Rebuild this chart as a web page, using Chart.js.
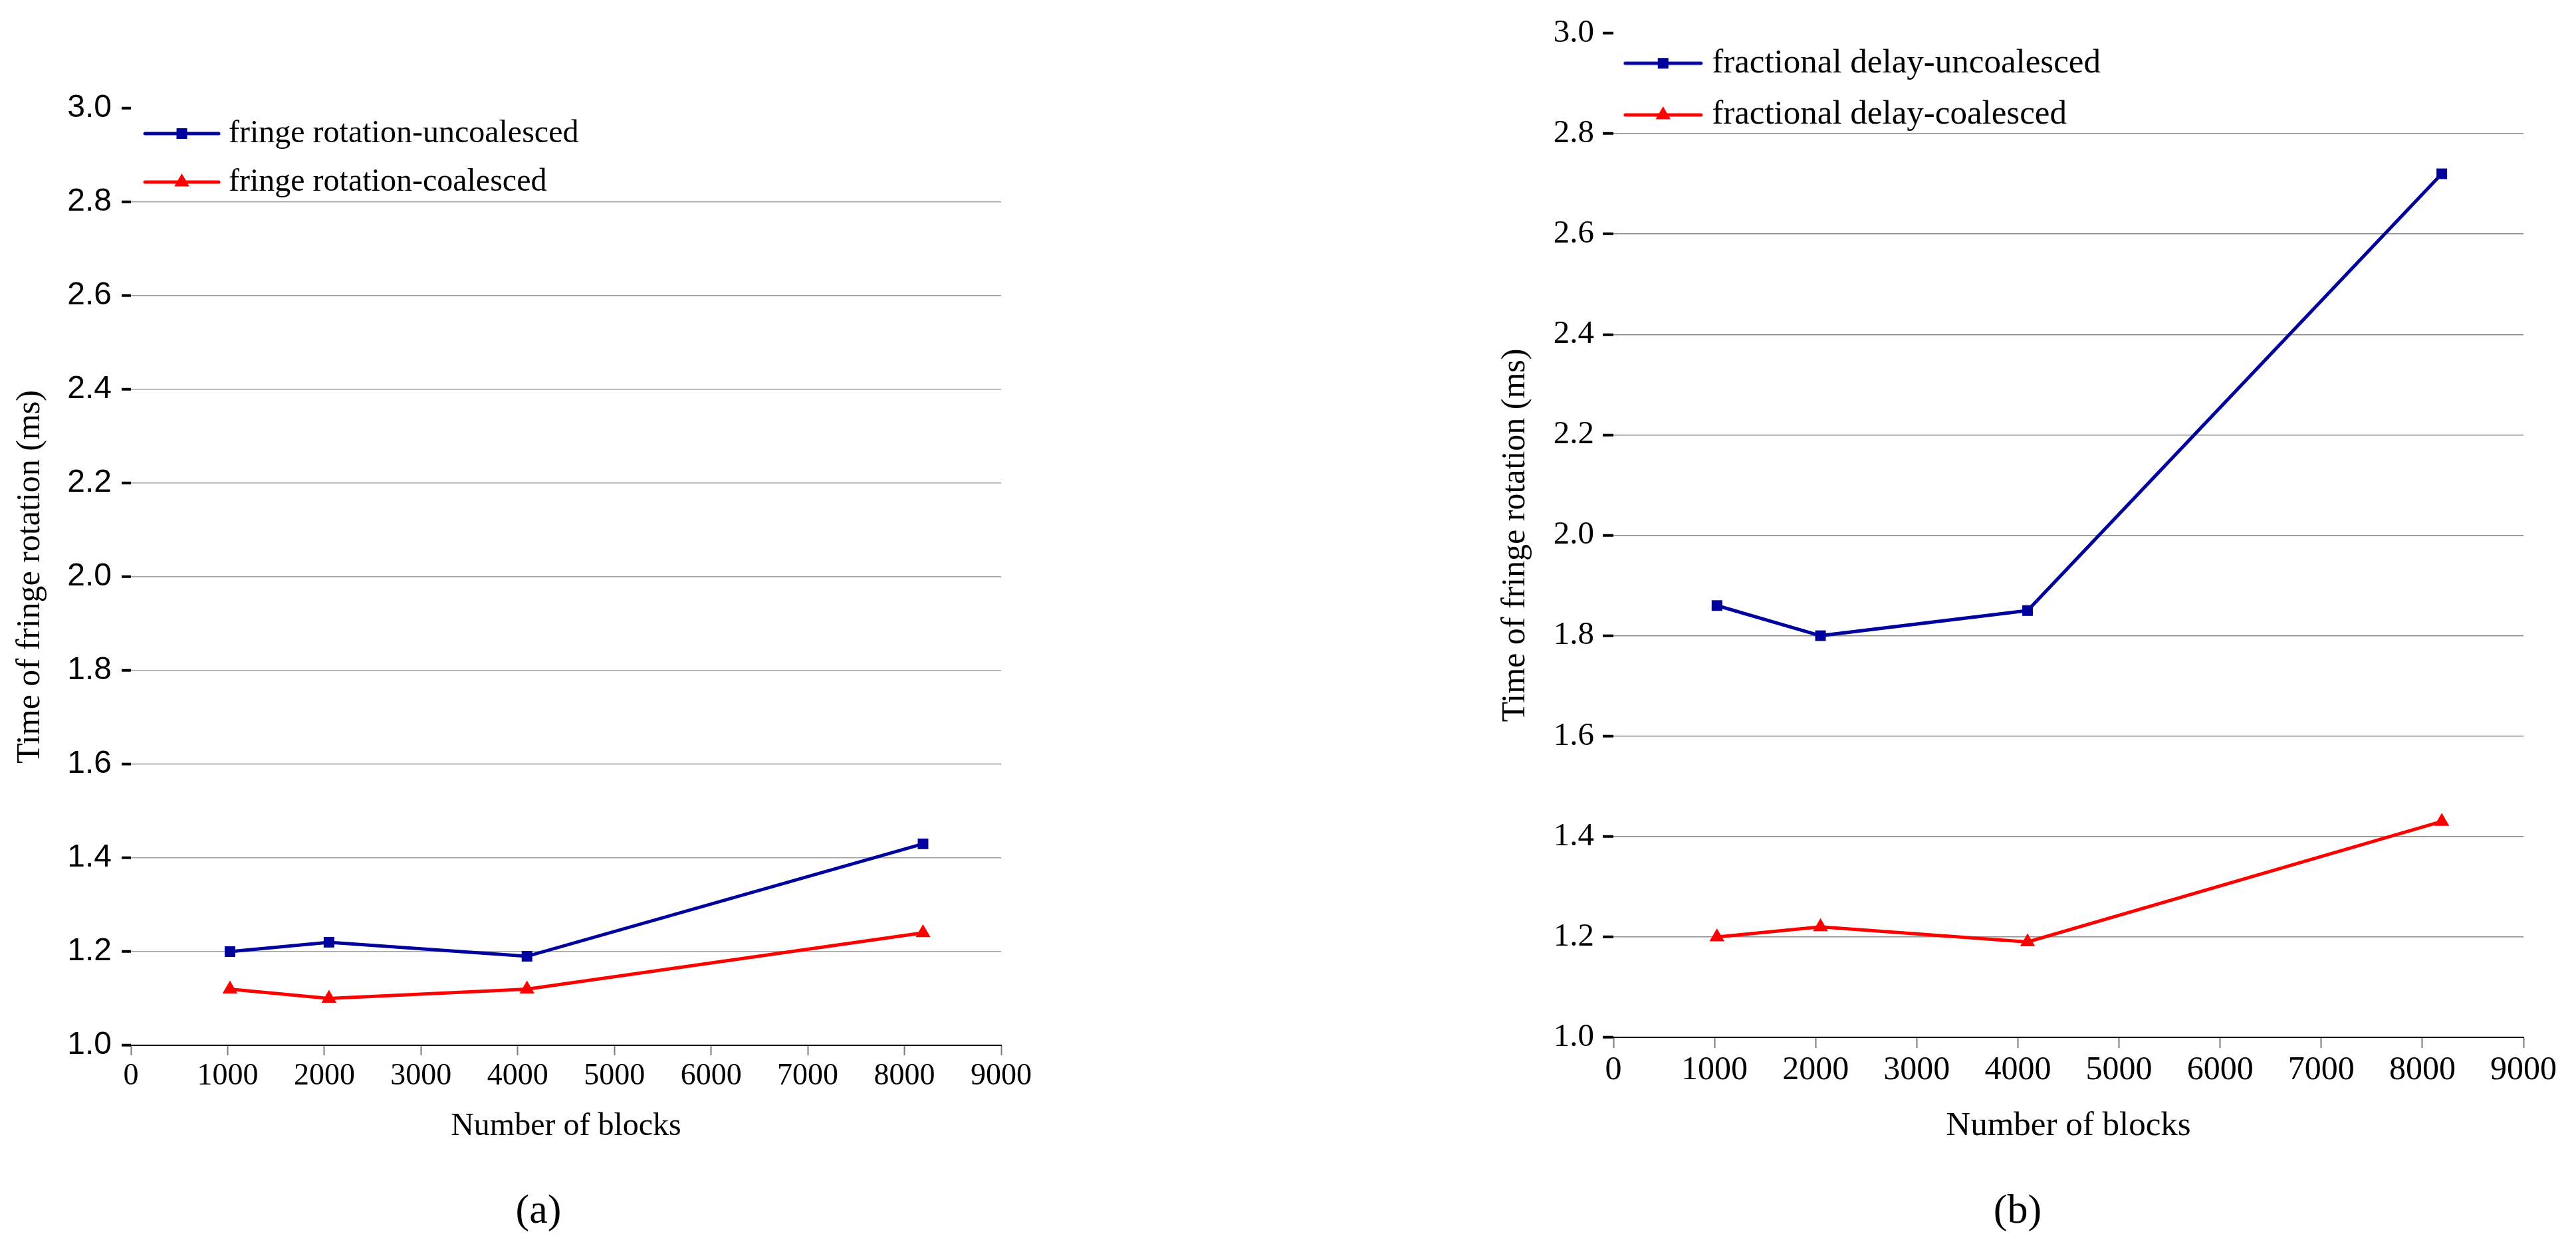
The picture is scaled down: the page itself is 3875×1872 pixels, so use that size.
<!DOCTYPE html>
<html>
<head>
<meta charset="utf-8">
<script src="https://cdn.jsdelivr.net/npm/chart.js@4.4.1/dist/chart.umd.min.js"></script>
<style>
  html, body { margin: 0; padding: 0; background: #fff; }
  body { width: 3875px; height: 1872px; position: relative; overflow: hidden; }
  canvas { position: absolute; top: 0; }
  #chartA { left: 0; }
  #chartB { left: 1900px; }
  .cap { position: absolute; font-family: "Liberation Serif"; font-size: 62px; line-height: 1;
         transform: translate(-50%, -50%); color: #000; }
</style>
</head>
<body>
<canvas id="chartA" width="1800" height="1872"></canvas>
<canvas id="chartB" width="1975" height="1872"></canvas>
<div class="cap" style="left:810px; top:1819px">(a)</div>
<div class="cap" style="left:3035px; top:1819px">(b)</div>
<script>
// Data
const blocks = [1024, 2048, 4096, 8192];
const fringeUncoalesced = [1.20, 1.22, 1.19, 1.43];
const fringeCoalesced = [1.12, 1.10, 1.12, 1.24];
const delayUncoalesced = [1.86, 1.80, 1.85, 2.72];
const delayCoalesced = [1.20, 1.22, 1.19, 1.43];

const xTickValues = [0, 1000, 2000, 3000, 4000, 5000, 6000, 7000, 8000, 9000];
const yTickValues = [1.0, 1.2, 1.4, 1.6, 1.8, 2.0, 2.2, 2.4, 2.6, 2.8, 3.0];

const BLUE = '#00009c';
const RED = '#ff0000';

Chart.defaults.font.family = '"Liberation Serif", "Times New Roman", serif';
Chart.defaults.color = '#000';

// legend symbol: short line with the series marker in the middle
function legendIcon(color, style, radius, width) {
	const c = document.createElement('canvas');
	c.width = width; c.height = 34;
	const g = c.getContext('2d');
	g.strokeStyle = color; g.lineWidth = 5; g.lineCap = 'round';
	g.beginPath(); g.moveTo(3, 17); g.lineTo(width - 3, 17); g.stroke();
	g.fillStyle = color;
	Chart.helpers.drawPoint(g, { pointStyle: style, radius: radius, rotation: 0, borderWidth: 0 }, width / 2, 17);
	return c;
}

// puts the legend box at a fixed offset from the top-left of the plot area
const legendPlace = {
	id: 'legendPlace',
	afterLayout(chart, args, opts) {
		const lg = chart.legend, ca = chart.chartArea;
		if (!lg) return;
		lg.left = ca.left + opts.dx; lg.top = ca.top + opts.dy;
		lg.right = lg.left + lg.width; lg.bottom = lg.top + lg.height;
	},
};

function series(label, ys, color, style, radius) {
	return {
		label,
		data: blocks.map((x, i) => ({ x, y: ys[i] })),
		borderColor: color, backgroundColor: color,
		pointBackgroundColor: color, pointBorderWidth: 0,
		pointStyle: style, pointRadius: radius, pointHoverRadius: radius,
		borderWidth: 5, tension: 0, fill: false,
	};
}

function panel(id, s) {
	return new Chart(document.getElementById(id), {
		type: 'line',
		data: {
			datasets: [
				series(s.names[0], s.ys[0], BLUE, 'rect', 11.3),
				series(s.names[1], s.ys[1], RED, 'triangle', 13),
			],
		},
		plugins: [legendPlace],
		options: {
			responsive: false,
			animation: false,
			layout: { padding: s.pad },
			plugins: {
				tooltip: { enabled: false },
				legendPlace: { dx: s.legend.dx, dy: s.legend.dy },
				legend: {
					position: 'chartArea', align: 'start',
					labels: {
						usePointStyle: true,
						pointStyleWidth: s.legend.boxW,
						padding: s.legend.pad,
						color: '#000',
						font: { size: s.legend.size },
						generateLabels(chart) {
							return chart.data.datasets.map((ds, i) => ({
								text: ds.label, datasetIndex: i, hidden: false,
								fillStyle: ds.borderColor, strokeStyle: ds.borderColor,
								lineWidth: 0, fontColor: '#000',
								pointStyle: legendIcon(ds.borderColor, ds.pointStyle, ds.pointRadius, s.legend.iconW),
							}));
						},
					},
				},
			},
			scales: {
				x: {
					type: 'linear', min: 0, max: 9000,
					afterBuildTicks(sc) { sc.ticks = xTickValues.map(v => ({ value: v })); },
					afterFit(sc) { sc.height = s.xAxisH; },
					ticks: {
						font: { size: s.xTickSize }, color: '#000', padding: 4,
						maxRotation: 0, autoSkip: false,
						callback: v => String(v),
					},
					grid: { drawOnChartArea: false, drawTicks: true, tickLength: s.xTickLen, tickColor: '#7a7a7a', tickWidth: 2 },
					border: { display: true, color: '#000', width: 2 },
					title: { display: true, text: 'Number of blocks', color: '#000', font: { size: s.xTitleSize }, padding: 0 },
				},
				y: {
					min: 1, max: 3,
					afterBuildTicks(sc) { sc.ticks = yTickValues.map(v => ({ value: v })); },
					afterFit(sc) { sc.width = s.yAxisW; },
					ticks: {
						font: { family: s.yTickFamily, size: s.yTickSize }, color: '#000',
						padding: s.yTickPad, autoSkip: false,
						callback: v => v.toFixed(1),
					},
					grid: {
						color: ctx => (ctx.index === 0 || ctx.index === yTickValues.length - 1) ? 'rgba(0,0,0,0)' : s.gridColor,
						lineWidth: 1.5,
						tickLength: s.yTickLen, tickColor: '#000', tickWidth: 4,
					},
					border: { display: false },
					title: {
						display: true, text: 'Time of fringe rotation (ms)', color: '#000',
						font: { size: 50 }, padding: { top: s.yTitlePad, bottom: 0 },
					},
				},
			},
		},
	});
}

panel('chartA', {
	names: ['fringe rotation-uncoalesced', 'fringe rotation-coalesced'],
	ys: [fringeUncoalesced, fringeCoalesced],
	pad: { left: 0, top: 163, right: 294, bottom: 147.7 },
	yAxisW: 197, yTitlePad: 16, xAxisH: 151.3,
	yTickFamily: '"Liberation Sans", Arial, sans-serif', yTickSize: 48, yTickPad: 15, yTickLen: 14,
	xTickSize: 46, xTickLen: 15, xTitleSize: 48,
	gridColor: '#a0a0a0',
	legend: { size: 48, pad: 25, boxW: 93, iconW: 117, dx: 5, dy: -11 },
});

panel('chartB', {
	names: ['fractional delay-uncoalesced', 'fractional delay-coalesced'],
	ys: [delayUncoalesced, delayCoalesced],
	pad: { left: 330, top: 50, right: 79, bottom: 146.6 },
	yAxisW: 197, yTitlePad: 20, xAxisH: 164.4,
	yTickFamily: '"Liberation Serif", "Times New Roman", serif', yTickSize: 49, yTickPad: 13, yTickLen: 16,
	xTickSize: 50, xTickLen: 16, xTitleSize: 51,
	gridColor: '#8c8c8c',
	legend: { size: 51, pad: 26.7, boxW: 96, iconW: 120, dx: 0, dy: -7 },
});
</script>
</body>
</html>
